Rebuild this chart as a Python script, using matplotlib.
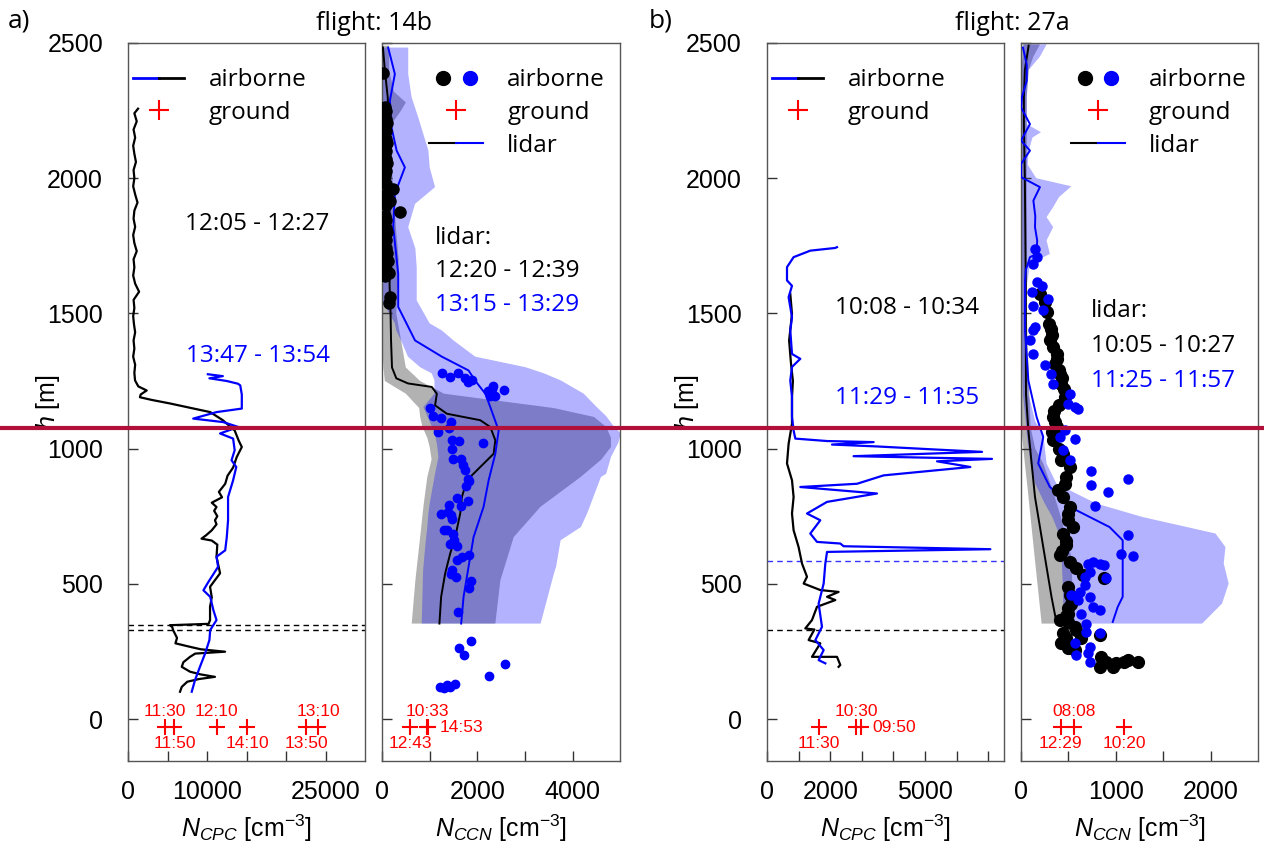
import matplotlib
matplotlib.use('Agg')
import matplotlib.pyplot as plt
from matplotlib.lines import Line2D
from matplotlib.legend_handler import HandlerTuple
from matplotlib import transforms

plt.rcParams['font.family'] = ['Liberation Sans', 'DejaVu Sans']
plt.rcParams['mathtext.fontset'] = 'custom'
plt.rcParams['mathtext.rm'] = 'Liberation Sans'
plt.rcParams['mathtext.it'] = 'Liberation Sans:italic'

TEXT_FONT = 'Open Sans'

# ---------------- common ----------------
h_ticks = [0, 500, 1000, 1500, 2000, 2500]
h_range = (-155, 2500)
ground_h = -30
boundary_h = 1075          # red horizontal line

# ---------------- flight 14b : N_CPC (h, N) ----------------
cpc14_black = [(2257, 1266), (2240, 800), (2210, 1100), (2180, 700), (2150, 900), (2120, 650),
               (2090, 800), (2060, 1000), (2030, 700), (2000, 800), (1970, 650), (1940, 900),
               (1910, 1200), (1880, 800), (1850, 700), (1820, 900), (1790, 650), (1760, 800),
               (1730, 1100), (1700, 700), (1670, 800), (1640, 650), (1610, 900), (1580, 1400),
               (1550, 700), (1520, 800), (1490, 650), (1460, 750), (1430, 900), (1400, 700),
               (1370, 800), (1340, 650), (1310, 900), (1280, 800), (1252, 887), (1230, 1300),
               (1215, 2360), (1200, 1600), (1190, 1500), (1180, 3000), (1167, 5300), (1150, 8000),
               (1135, 10400), (1105, 12000), (1067, 13500), (1030, 14000), (1006, 14400),
               (969, 13760), (930, 13300), (900, 12600), (870, 12300), (840, 11500), (820, 11900),
               (800, 10600), (784, 11200), (770, 10900), (750, 11300), (735, 11000), (720, 11200),
               (698, 10600), (680, 9900), (667, 9300), (660, 10600), (645, 11300), (600, 11200),
               (539, 11650), (489, 10380), (450, 10600), (415, 10380), (366, 10380), (352, 10200),
               (347, 5300), (340, 5600), (329, 5700), (300, 6200), (280, 6000), (267, 7850),
               (258, 9200), (249, 12280), (242, 8500), (230, 7850), (210, 7000), (193, 6800),
               (175, 7850), (165, 9200), (156, 11000), (148, 9000), (138, 7500), (119, 6800),
               (101, 6580)]
cpc14_blue = [(1275, 10100), (1268, 12000), (1260, 10300), (1250, 12500), (1240, 13900),
              (1234, 14200), (1200, 14400), (1148, 14400), (1135, 11200), (1111, 8250),
              (1098, 12050), (1080, 13960), (1056, 11650), (1037, 13300), (994, 13500),
              (957, 13100), (932, 13700), (883, 13300), (821, 12660), (735, 12660), (673, 12500),
              (624, 12300), (600, 11200), (563, 11400), (507, 10170), (476, 9540), (452, 10400),
              (403, 10800), (366, 11200), (329, 10400), (292, 10300), (242, 9750), (193, 9100),
              (144, 8480), (101, 8060)]
cpc14_ground = [4670, 5870, 11220, 15060, 22560, 24050]
cpc14_ground_lbl = ['11:30', '11:50', '12:10', '14:10', '13:50', '13:10']
cpc14_ground_pos = ['above', 'below', 'above', 'below', 'below', 'above']
cpc14_pbl = [347, 331]

# ---------------- flight 14b : N_CCN ----------------
ccn14_dots_black = [(2390, 20), (2265, 60), (2250, 90), (2235, 50), (2220, 80), (2205, 110),
                    (2190, 60), (2175, 90), (2160, 50), (2145, 80), (2130, 100), (2115, 60),
                    (2100, 90), (2085, 50), (2070, 80), (2055, 110), (2040, 60), (2025, 90),
                    (2010, 70), (1995, 50), (1980, 80), (1960, 230), (1945, 100), (1930, 60),
                    (1917, 170), (1900, 80), (1875, 377), (1860, 60), (1845, 90), (1830, 50),
                    (1815, 80), (1800, 110), (1785, 60), (1770, 90), (1755, 50), (1740, 80),
                    (1725, 100), (1710, 70), (1695, 120), (1680, 60), (1665, 90), (1650, 140),
                    (1640, 70), (1560, 160), (1540, 150)]
ccn14_dots_blue = [(1278, 1255), (1265, 1430), (1278, 1604), (1260, 1745), (1252, 1886),
                   (1246, 1810), (1221, 2306), (1217, 2550), (1196, 2376), (1230, 2330),
                   (1212, 2230), (1195, 2270), (1151, 1010), (1119, 1065), (1113, 1240),
                   (1100, 1445), (1061, 1170), (1076, 1400), (1033, 1465), (1029, 1605),
                   (1022, 2120), (1000, 1478), (960, 1486), (963, 1660), (938, 1697), (920, 1745),
                   (886, 1802), (861, 1766), (880, 1815), (817, 1583), (808, 1793), (786, 1655),
                   (792, 1414), (759, 1240), (755, 1450), (765, 1381), (740, 1465), (700, 1290),
                   (683, 1486), (646, 1430), (661, 1500), (639, 1570), (698, 1360), (601, 1675),
                   (605, 1815), (587, 1570), (550, 1465), (535, 1444), (526, 1556), (511, 1865),
                   (483, 1815), (396, 1591), (289, 1865), (261, 1625), (236, 1710), (202, 2587),
                   (161, 2250), (120, 1220), (115, 1290), (125, 1360), (118, 1430), (128, 1530)]
ccn14_lidar_black = [(2483, 20), (2400, 60), (2300, 120), (2200, 140), (2100, 150), (2000, 160),
                     (1900, 160), (1800, 150), (1700, 160), (1600, 160), (1500, 180), (1400, 190),
                     (1300, 210), (1260, 300), (1241, 545), (1228, 1044), (1203, 1150),
                     (1160, 1113), (1129, 1360), (1105, 2060), (1080, 2270), (1031, 2376),
                     (981, 2341), (932, 2060), (883, 1780), (821, 1675), (760, 1640), (673, 1535),
                     (612, 1430), (538, 1324), (452, 1240), (353, 1204)]
ccn14_lidar_blue = [(2483, 130), (2385, 270), (2287, 166), (2188, 200), (2102, 307), (2040, 480),
                    (1942, 270), (1819, 236), (1647, 340), (1524, 340), (1400, 693), (1340, 1255),
                    (1289, 1815), (1252, 1950), (1203, 2166), (1154, 2270), (1067, 2446),
                    (981, 2376), (883, 2236), (785, 2130), (673, 1920), (563, 1815), (452, 1710),
                    (353, 1660)]
# (h, low, high)
ccn14_band_black = [(2490, 0, 150), (2400, 0, 150), (2320, 0, 250), (2280, 0, 500), (2250, 0, 400),
                    (2200, 0, 200), (2000, 0, 220), (1800, 0, 300), (1700, 0, 350), (1500, 0, 300),
                    (1400, 0, 400), (1300, 30, 500), (1250, 60, 800), (1203, 500, 1300),
                    (1150, 780, 3600), (1117, 800, 4445), (1080, 850, 4700), (1040, 950, 4800),
                    (1006, 1000, 4800), (960, 1040, 4600), (895, 950, 4165), (785, 868, 3324),
                    (673, 800, 2762), (513, 700, 2482), (353, 623, 2376)]
ccn14_band_blue = [(2483, 0, 550), (2385, 0, 550), (2300, 0, 620), (2225, 0, 760), (2102, 0, 973),
                   (2040, 0, 1000), (1967, 0, 1113), (1905, 0, 693), (1819, 0, 550), (1740, 0, 700),
                   (1671, 0, 728), (1548, 0, 728), (1463, 270, 1000), (1437, 300, 1255),
                   (1400, 400, 1500), (1340, 545, 1955), (1301, 800, 3010), (1278, 1044, 3400),
                   (1252, 1100, 3750), (1203, 1100, 4230), (1154, 868, 4500), (1120, 950, 4700),
                   (1080, 1050, 4870), (1056, 1100, 5010), (1020, 1150, 4950), (969, 1183, 4800),
                   (907, 1113, 4700), (895, 1100, 4590), (797, 1000, 4380), (760, 973, 4300),
                   (710, 950, 4170), (661, 920, 3745), (563, 868, 3650), (538, 860, 3605),
                   (353, 833, 3325)]
ccn14_ground = [594, 950, 970]
ccn14_ground_lbl = ['12:43', '10:33', '14:53']
ccn14_ground_pos = ['below', 'above', 'right']

# ---------------- flight 27a : N_CPC ----------------
cpc27_blue = [(1745, 2215), (1742, 2162), (1732, 1370), (1708, 842), (1671, 633), (1622, 633),
              (1602, 791), (1560, 684), (1486, 791), (1437, 737), (1350, 791), (1332, 1054),
              (1302, 791), (1252, 737), (1191, 791), (1117, 791), (1067, 842), (1037, 896),
              (1028, 1900), (1024, 3375), (1015, 2057), (1008, 3480), (997, 5273), (988, 6805),
              (972, 2740), (966, 5273), (962, 7121), (953, 5380), (932, 6434), (901, 3690),
              (870, 2850), (858, 1054), (834, 3480), (803, 1900), (760, 1266), (735, 1687),
              (686, 1370), (655, 1582), (649, 2320), (639, 2425), (628, 7069), (618, 1900),
              (575, 1846), (501, 1793), (427, 1634), (341, 1740), (292, 1530), (255, 1793),
              (218, 1634), (206, 1846)]
cpc27_black = [(1572, 737), (1498, 791), (1400, 700), (1314, 760), (1250, 820), (1191, 791),
               (1092, 791), (1018, 684), (945, 633), (883, 791), (821, 842), (760, 791),
               (698, 842), (636, 1000), (575, 1108), (526, 1266), (501, 1160), (477, 1687),
               (470, 2266), (452, 1900), (440, 2162), (415, 1582), (366, 1424), (335, 1212),
               (331, 1500), (292, 1317), (280, 1687), (230, 1424), (230, 2215), (200, 2320),
               (193, 2266)]
cpc27_ground = [1655, 2826, 2975]
cpc27_ground_lbl = ['11:30', '10:30', '09:50']
cpc27_ground_pos = ['below', 'above', 'right']
cpc27_pbl_black = 331
cpc27_pbl_blue = 584

# ---------------- flight 27a : N_CCN ----------------
ccn27_dots_black = [(1572, 199), (1542, 252), (1505, 269), (1460, 300), (1444, 321), (1420, 330),
                    (1400, 304), (1376, 339), (1350, 374), (1330, 380), (1314, 356), (1290, 400),
                    (1277, 409), (1260, 430), (1240, 426), (1220, 450), (1191, 461), (1160, 400),
                    (1140, 350), (1117, 339), (1100, 360), (1080, 374), (1060, 330), (1031, 339),
                    (1000, 400), (980, 440), (957, 426), (932, 514), (895, 479), (870, 460),
                    (846, 391), (821, 443), (785, 514), (760, 500), (735, 496), (710, 548),
                    (686, 443), (660, 470), (643, 479), (620, 430), (606, 409), (580, 520),
                    (557, 584), (532, 653), (520, 880), (489, 496), (460, 520), (427, 531),
                    (410, 500), (390, 496), (380, 470), (366, 409), (359, 496), (341, 566),
                    (329, 584), (317, 443), (310, 828), (300, 470), (298, 636), (280, 426),
                    (261, 496), (255, 566), (230, 846), (218, 1124), (212, 898), (212, 1090),
                    (212, 1229), (206, 1003), (193, 828), (193, 967)]
ccn27_dots_blue = [(1738, 147), (1708, 164), (1683, 130), (1616, 164), (1603, 217), (1578, 112),
                   (1554, 286), (1529, 130), (1511, 234), (1449, 147), (1437, 130), (1400, 94),
                   (1350, 130), (1308, 252), (1277, 321), (1240, 339), (1203, 514), (1166, 496),
                   (1154, 566), (1148, 600), (1067, 461), (1043, 409), (1037, 566), (994, 443),
                   (957, 514), (917, 741), (889, 1124), (865, 741), (840, 915), (787, 775),
                   (680, 1124), (612, 1055), (602, 1177), (575, 705), (581, 758), (575, 828),
                   (569, 880), (544, 723), (520, 898), (526, 671), (495, 671), (470, 618),
                   (452, 723), (415, 758), (403, 828), (458, 531), (440, 600), (390, 636),
                   (353, 688), (323, 688), (318, 828), (280, 566), (267, 723), (236, 584),
                   (243, 705), (212, 723)]
ccn27_lidar_black = [(2490, 80), (2400, 40), (2300, 30), (2200, 30), (2000, 40), (1800, 45),
                     (1600, 50), (1400, 50), (1200, 52), (1067, 77), (821, 147), (636, 234),
                     (452, 321), (355, 375)]
ccn27_lidar_blue = [(2483, 20), (2420, 60), (2361, 60), (2300, 10), (2262, 0), (2200, 94),
                    (2139, 0), (2102, 94), (2053, 0), (2004, 0), (1967, 199), (1917, 130),
                    (1860, 150), (1819, 147), (1770, 170), (1720, 164), (1708, 94), (1660, 50),
                    (1622, 42), (1437, 42), (1252, 77), (1117, 164), (1043, 234), (945, 181),
                    (858, 304), (772, 584), (710, 933), (661, 1072), (575, 1072), (452, 1072),
                    (415, 1020), (359, 967)]
ccn27_band_black = [(2495, 20, 200), (2450, 0, 130), (2400, 0, 80), (2300, 0, 60), (2000, 0, 60),
                    (1500, 0, 60), (1080, 0, 100), (1000, 25, 150), (945, 40, 234), (850, 70, 330),
                    (760, 96, 409), (600, 143, 531), (450, 188, 545), (353, 217, 548)]
ccn27_band_blue = [(2495, 30, 270), (2450, 20, 200), (2400, 0, 80), (2300, 0, 60), (2200, 0, 60),
                   (2170, 0, 210), (2150, 0, 120), (2100, 0, 80), (2050, 0, 70), (2000, 0, 160),
                   (1970, 0, 530), (1930, 0, 400), (1893, 0, 339), (1856, 0, 269), (1819, 0, 339),
                   (1770, 0, 269), (1720, 0, 304), (1683, 0, 94), (1600, 0, 60), (1400, 0, 60),
                   (1200, 20, 80), (1100, 50, 150), (1055, 60, 234), (945, 100, 269),
                   (870, 150, 374), (797, 250, 793), (747, 330, 1282), (686, 400, 2051),
                   (636, 420, 2156), (575, 430, 2138), (501, 440, 2190), (427, 445, 2120),
                   (353, 450, 1910)]
ccn27_ground = [419, 559, 1090]
ccn27_ground_lbl = ['12:29', '08:08', '10:20']
ccn27_ground_pos = ['below', 'above', 'below']


def hx(pairs):
    return [p[0] for p in pairs], [p[1] for p in pairs]


def style_axis(ax, xmax, xticks, xlabels, xlabel, ylabels):
    ax.set_xlim(0, xmax)
    ax.set_ylim(*h_range)
    ax.set_xticks(xticks, xlabels)
    if ylabels:
        ax.set_yticks(h_ticks, [str(t) for t in h_ticks])
        ax.set_ylabel('$h$ [m]', fontsize=18)
        ax.yaxis.set_label_coords(-0.28, 0.5)
    else:
        ax.set_yticks(h_ticks, [])
    ax.tick_params(axis='both', direction='in', length=7, width=1, color='#333333', labelsize=18)
    ax.tick_params(axis='x', pad=14)
    ax.tick_params(axis='y', pad=18)
    ax.set_xlabel(xlabel, fontsize=18, labelpad=6)
    for s in ax.spines.values():
        s.set_color('#555555')
        s.set_linewidth(1.0)


def draw_ground(ax, xs, labels, places):
    ax.plot(xs, [ground_h] * len(xs), ls='none', marker='+', color='red', ms=11, mew=1.5, zorder=5)
    offsets = {'above': ((0, 11.5), 'center'), 'below': ((0, -11.5), 'center'),
               'right': ((8, 0), 'left')}
    for x, lbl, p in zip(xs, labels, places):
        off, ha = offsets[p]
        ax.annotate(lbl, (x, ground_h), xytext=off, textcoords='offset points',
                    ha=ha, va='center', color='red', fontsize=12.5)


def draw_band(ax, rows, color, alpha):
    h = [r[0] for r in rows]
    ax.fill_betweenx(h, [r[1] for r in rows], [r[2] for r in rows],
                     facecolor=color, alpha=alpha, edgecolor='none', zorder=1)


def cpc_legend(ax):
    handles = [(Line2D([], [], color='blue', lw=2), Line2D([], [], color='black', lw=2)),
               Line2D([], [], ls='none', marker='+', color='red', ms=14, mew=1.5)]
    ax.legend(handles, ['airborne', 'ground'], handler_map={tuple: HandlerTuple(ndivide=None, pad=0)},
              loc='upper left', bbox_to_anchor=(0.022, 0.965), frameon=False,
              prop={'family': TEXT_FONT, 'size': 17.5}, borderpad=0, borderaxespad=0,
              handlelength=2.1, handletextpad=1.0, labelspacing=0.36)


def ccn_legend(ax, anchor_x):
    handles = [(Line2D([], [], ls='none', marker='o', color='black', ms=10),
                Line2D([], [], ls='none', marker='o', color='blue', ms=10)),
               Line2D([], [], ls='none', marker='+', color='red', ms=14, mew=1.5),
               (Line2D([], [], color='black', lw=1.5), Line2D([], [], color='blue', lw=1.5))]
    ax.legend(handles, ['airborne', 'ground', 'lidar'],
              handler_map={tuple: HandlerTuple(ndivide=None, pad=0)},
              loc='upper right', bbox_to_anchor=(anchor_x, 0.965), frameon=False,
              prop={'family': TEXT_FONT, 'size': 17.5}, borderpad=0, borderaxespad=0,
              handlelength=2.2, handletextpad=1.0, labelspacing=0.36)


fig = plt.figure(figsize=(12.64, 8.49), dpi=100)
ax1 = fig.add_axes([0.1013, 0.1037, 0.1875, 0.8457])
ax2 = fig.add_axes([0.3022, 0.1037, 0.1887, 0.8457])
ax3 = fig.add_axes([0.6068, 0.1037, 0.1875, 0.8457])
ax4 = fig.add_axes([0.8078, 0.1037, 0.1875, 0.8457])

# panel 1
h, x = hx(cpc14_black)
ax1.plot(x, h, color='black', lw=1.6, zorder=3)
h, x = hx(cpc14_blue)
ax1.plot(x, h, color='blue', lw=1.6, zorder=3)
for yh in cpc14_pbl:
    ax1.axhline(yh, color='black', lw=1, dashes=(4, 3))
draw_ground(ax1, cpc14_ground, cpc14_ground_lbl, cpc14_ground_pos)
ax1.text(16400, 1832, '12:05 - 12:27', ha='center', va='center', family=TEXT_FONT, fontsize=17.5)
ax1.text(16400, 1341, '13:47 - 13:54', ha='center', va='center', family=TEXT_FONT, fontsize=17.5,
         color='blue')
style_axis(ax1, 30000, [0, 5000, 10000, 15000, 20000, 25000], ['0', '', '10000', '', '', '25000'],
           r'$N_{CPC}$ [cm$^{-3}$]', True)
cpc_legend(ax1)

# panel 2
draw_band(ax2, ccn14_band_black, 'black', 0.3)
draw_band(ax2, ccn14_band_blue, 'blue', 0.3)
h, x = hx(ccn14_lidar_black)
ax2.plot(x, h, color='black', lw=1.4, zorder=3)
h, x = hx(ccn14_lidar_blue)
ax2.plot(x, h, color='blue', lw=1.4, zorder=3)
h, x = hx(ccn14_dots_black)
ax2.plot(x, h, ls='none', marker='o', color='black', ms=8, zorder=4)
h, x = hx(ccn14_dots_blue)
ax2.plot(x, h, ls='none', marker='o', color='blue', ms=6, zorder=4)
draw_ground(ax2, ccn14_ground, ccn14_ground_lbl, ccn14_ground_pos)
ax2.text(1113, 1780, 'lidar:', ha='left', va='center', family=TEXT_FONT, fontsize=17.5)
ax2.text(1113, 1655, '12:20 - 12:39', ha='left', va='center', family=TEXT_FONT, fontsize=17.5)
ax2.text(1113, 1530, '13:15 - 13:29', ha='left', va='center', family=TEXT_FONT, fontsize=17.5,
         color='blue')
style_axis(ax2, 5000, [0, 1000, 2000, 3000, 4000], ['0', '', '2000', '', '4000'],
           r'$N_{CCN}$ [cm$^{-3}$]', False)
ccn_legend(ax2, 0.935)

# panel 3
h, x = hx(cpc27_black)
ax3.plot(x, h, color='black', lw=1.6, zorder=3)
h, x = hx(cpc27_blue)
ax3.plot(x, h, color='blue', lw=1.6, zorder=3)
ax3.axhline(cpc27_pbl_black, color='black', lw=1, dashes=(4, 3))
ax3.axhline(cpc27_pbl_blue, color='#3333ff', lw=1, dashes=(4, 3))
draw_ground(ax3, cpc27_ground, cpc27_ground_lbl, cpc27_ground_pos)
ax3.text(4430, 1520, '10:08 - 10:34', ha='center', va='center', family=TEXT_FONT, fontsize=17.5)
ax3.text(4430, 1186, '11:29 - 11:35', ha='center', va='center', family=TEXT_FONT, fontsize=17.5,
         color='blue')
style_axis(ax3, 7500, list(range(0, 8000, 1000)), ['0', '', '2000', '', '', '5000', '', ''],
           r'$N_{CPC}$ [cm$^{-3}$]', True)
cpc_legend(ax3)

# panel 4
draw_band(ax4, ccn27_band_black, 'black', 0.3)
draw_band(ax4, ccn27_band_blue, 'blue', 0.3)
h, x = hx(ccn27_lidar_black)
ax4.plot(x, h, color='black', lw=1.4, zorder=3)
h, x = hx(ccn27_lidar_blue)
ax4.plot(x, h, color='blue', lw=1.4, zorder=3)
h, x = hx(ccn27_dots_black)
ax4.plot(x, h, ls='none', marker='o', color='black', ms=8.5, zorder=4)
h, x = hx(ccn27_dots_blue)
ax4.plot(x, h, ls='none', marker='o', color='blue', ms=6.5, zorder=4)
draw_ground(ax4, ccn27_ground, ccn27_ground_lbl, ccn27_ground_pos)
ax4.text(741, 1507, 'lidar:', ha='left', va='center', family=TEXT_FONT, fontsize=17.5)
ax4.text(741, 1378, '10:05 - 10:27', ha='left', va='center', family=TEXT_FONT, fontsize=17.5)
ax4.text(741, 1249, '11:25 - 11:57', ha='left', va='center', family=TEXT_FONT, fontsize=17.5,
         color='blue')
style_axis(ax4, 2500, [0, 500, 1000, 1500, 2000], ['0', '', '1000', '', '2000'],
           r'$N_{CCN}$ [cm$^{-3}$]', False)
ccn_legend(ax4, 0.952)

# panel letters and titles
fig.text(0.006, 0.975, 'a)', family=TEXT_FONT, fontsize=19, va='center')
fig.text(0.513, 0.975, 'b)', family=TEXT_FONT, fontsize=19, va='center')
fig.text(0.296, 0.972, 'flight: 14b', family=TEXT_FONT, fontsize=18, ha='center', va='center')
fig.text(0.801, 0.972, 'flight: 27a', family=TEXT_FONT, fontsize=18, ha='center', va='center')

# red line across the whole figure
trans = transforms.blended_transform_factory(fig.transFigure, ax1.transData)
fig.add_artist(Line2D([0, 1], [boundary_h, boundary_h], transform=trans, color='#b0103a', lw=3,
                      zorder=10))

fig.savefig('out.png', dpi=100)
